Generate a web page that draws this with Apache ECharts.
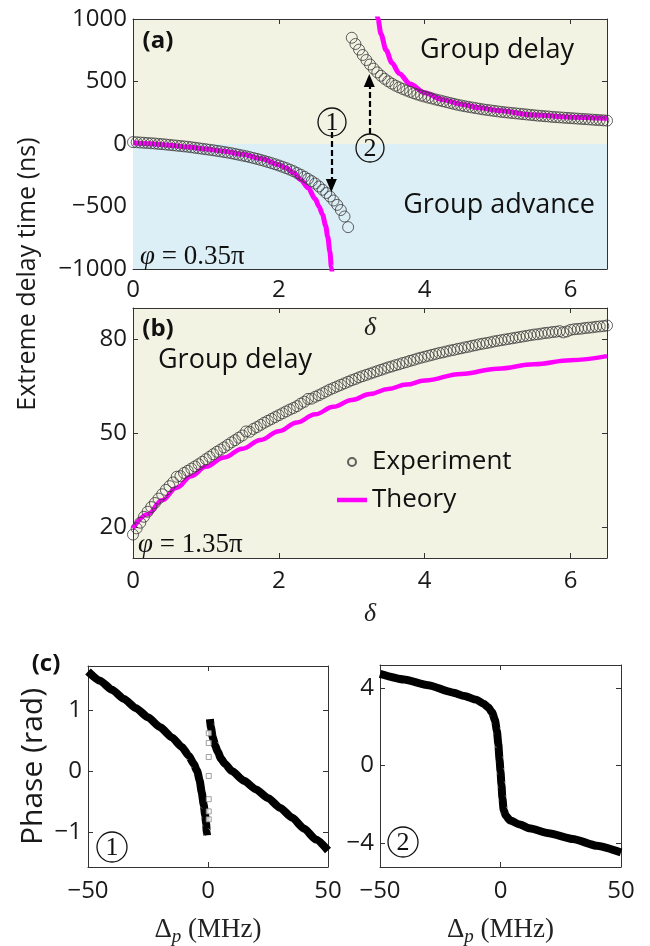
<!DOCTYPE html>
<html>
<head>
<meta charset="utf-8">
<script src="https://cdn.jsdelivr.net/npm/echarts@6/dist/echarts.min.js"></script>
<style>
html, body { margin: 0; padding: 0; background: #fff; }
#chart { width: 650px; height: 946px; }
</style>
</head>
<body>
<div id="chart"></div>
<script>
// delta grid shared by the experimental points of (a) and (b)
var deltaGrid = [
  0.00,0.05,0.10,0.15,0.20,0.25,0.30,0.35,0.40,0.45,0.50,0.55,0.60,0.65,0.70,0.75,0.80,0.85,0.90,0.95,
  1.00,1.05,1.10,1.15,1.20,1.25,1.30,1.35,1.40,1.45,1.50,1.55,1.60,1.65,1.70,1.75,1.80,1.85,1.90,1.95,
  2.00,2.05,2.10,2.15,2.20,2.25,2.30,2.35,2.40,2.45,2.50,2.55,2.60,2.65,2.70,2.75,2.80,2.85,2.90,2.95,
  3.00,3.05,3.10,3.15,3.20,3.25,3.30,3.35,3.40,3.45,3.50,3.55,3.60,3.65,3.70,3.75,3.80,3.85,3.90,3.95,
  4.00,4.05,4.10,4.15,4.20,4.25,4.30,4.35,4.40,4.45,4.50,4.55,4.60,4.65,4.70,4.75,4.80,4.85,4.90,4.95,
  5.00,5.05,5.10,5.15,5.20,5.25,5.30,5.35,5.40,5.45,5.50,5.55,5.60,5.65,5.70,5.75,5.80,5.85,5.90,5.95,
  6.00,6.05,6.10,6.15,6.20,6.25,6.30,6.35,6.40,6.45,6.50
];

// (a) experiment, delta 0 .. 2.95 (advance branch)
var aExpAdvance = [
  15,14,12,10,8,6,4,1,-1,-4,-7,-10,-13,-16,-19,-22,-26,-30,-34,-38,
  -42,-46,-50,-55,-59,-64,-69,-74,-80,-86,-92,-98,-105,-112,-119,-127,-135,-144,-153,-162,
  -172,-182,-193,-205,-217,-232,-246,-262,-279,-297,-316,-340,-366,-392,-420,-452,-487,-528,-580,-665
];
// (a) experiment, delta 3.00 .. 6.50 (delay branch)
var aExpDelay = [
  850,800,755,712,672,636,603,573,546,522,501,483,467,453,440,428,417,406,396,387,
  379,371,364,356,349,342,335,328,321,314,308,302,297,292,287,282,277,273,269,265,
  261,257,254,251,248,245,242,239,236,233,230,227,225,222,220,217,215,213,211,209,
  207,205,203,201,199,197,195,193,191,189,187
];
// (a) theory
var aTheoryAdvX = [0,0.25,0.5,0.75,1.0,1.25,1.5,1.75,2.0,2.1,2.2,2.3,2.4,2.5,2.55,2.6,2.64,2.67,2.7,2.72,2.74];
var aTheoryAdvY = [10,2,-10,-24,-40,-58,-82,-116,-165,-192,-230,-285,-350,-440,-500,-565,-650,-740,-860,-984,-1080];
var aTheoryDelX = [3.33,3.36,3.4,3.47,3.55,3.65,3.8,4.0,4.25,4.5,4.75,5.0,5.5,6.0,6.5];
var aTheoryDelY = [1080,1000,880,752,650,565,480,410,355,318,290,268,232,215,206];

// (b) experiment on deltaGrid
var bExp = [
  17.5,19.5,21.3,23.2,24.8,26.3,27.6,29.0,30.4,31.8,33.0,34.2,36.0,36.2,37.2,37.9,38.6,39.3,40.0,40.8,
  41.6,42.4,43.2,44.0,44.7,45.4,46.2,47.0,47.7,48.5,49.2,50.5,50.4,51.3,51.9,52.6,53.3,53.9,54.5,55.1,
  55.7,56.3,56.9,57.5,58.0,58.6,59.4,60.0,60.9,61.0,61.6,62.1,62.7,63.3,63.9,64.4,64.9,65.4,65.9,66.4,
  66.9,67.3,67.8,68.2,68.6,69.0,69.4,69.8,70.2,70.6,71.0,71.3,71.7,72.0,72.4,72.7,73.1,73.4,73.8,74.1,
  74.4,74.7,75.0,75.3,75.6,75.8,76.1,76.4,76.6,76.9,77.1,77.4,77.6,77.9,78.1,78.4,78.6,78.8,79.0,79.3,
  79.5,79.7,79.9,80.1,80.3,80.5,80.7,80.9,81.1,81.3,81.5,81.6,81.8,82.0,82.1,82.3,82.4,82.6,82.2,82.5,
  83.0,83.2,83.3,83.4,83.6,83.7,83.8,84.0,84.1,84.2,84.4
];
// (b) theory
var bTheoryX = [0,0.2,0.4,0.6,0.8,1.0,1.25,1.5,1.75,2.0,2.25,2.5,2.75,3.0,3.25,3.5,3.75,4.0,4.5,5.0,5.5,6.0,6.5];
var bTheoryY = [19.5,24,28.5,32.5,36.2,39.2,42.2,45,47.8,50.6,53.4,56,58.4,60.6,62.5,64.1,65.5,66.8,68.9,70.6,72,73.3,74.6];

// (c) phase, case 1
var c1LeftX = [-50,-45,-40,-35,-30,-25,-20,-15,-11,-8,-6,-4.5,-3.5,-2.6,-1.8,-1.2,-0.8,-0.5,-0.4];
var c1LeftY = [1.63,1.48,1.33,1.18,1.03,0.88,0.72,0.55,0.40,0.25,0.12,0.0,-0.15,-0.35,-0.55,-0.72,-0.85,-1.0,-1.05];
var c1RightX = [0.8,1.2,2,3,4,5.5,7,10,15,20,25,30,35,40,45,50];
var c1RightY = [0.85,0.72,0.55,0.42,0.32,0.2,0.12,0.0,-0.16,-0.3,-0.44,-0.6,-0.76,-0.94,-1.12,-1.3];
var c1GapX = [0.3,0.3,0.3,0.3,0.3,0.3,0.3];
var c1GapY = [0.62,0.46,0.23,-0.08,-0.46,-0.66,-0.79];

// (c) phase, case 2
var c2X = [-50,-40,-30,-20,-15,-10,-7,-5,-3.5,-2.3,-1.5,-0.9,-0.4,0,0.4,0.8,1.3,2.2,4,8,12,20,30,40,50];
var c2Y = [4.74,4.45,4.15,3.78,3.6,3.4,3.2,3.0,2.75,2.35,1.8,1.1,0.3,-0.3,-1.0,-1.7,-2.3,-2.6,-2.85,-3.05,-3.25,-3.5,-3.8,-4.15,-4.5];

function zip(xs, ys) {
  var out = [];
  for (var i = 0; i < ys.length; i++) out.push([xs[i], ys[i]]);
  return out;
}

var SANS = 'Open Sans';
var SERIF = 'Liberation Serif';
var beige = '#F3F3E3';
var blue = '#DDEFF6';
var magenta = '#FF00FF';
var ring = '#3a3a3a';
var minus = function (v) { return String(v).replace('-', '\u2212'); };

function axisBase(gridIndex, extra) {
  var o = {
    gridIndex: gridIndex,
    type: 'value',
    axisLine: { onZero: false, lineStyle: { color: '#333', width: 1 } },
    axisTick: { inside: true, length: 5, lineStyle: { color: '#333' } },
    axisLabel: { fontFamily: SANS, fontSize: 24, color: '#1a1a1a', formatter: minus },
    splitLine: { show: false }
  };
  for (var k in extra) {
    if (typeof extra[k] === 'object' && o[k] && !Array.isArray(extra[k])) {
      o[k] = Object.assign({}, o[k], extra[k]);
    } else {
      o[k] = extra[k];
    }
  }
  return o;
}

var deltaName = { fontFamily: SERIF, fontStyle: 'italic', fontSize: 26, color: '#222' };
var dpName = {
  fontFamily: SERIF, fontSize: 27, color: '#222',
  rich: {
    s: { fontFamily: SERIF, fontStyle: 'italic', fontSize: 19, padding: [14, 0, 0, 0] }
  }
};

var xAxes = [
  axisBase(0, { min: 0, max: 6.5, interval: 2, name: 'δ', nameLocation: 'middle', nameGap: 46, nameTextStyle: deltaName,
    axisLabel: { margin: 9, showMaxLabel: false } }),
  axisBase(0, { min: 0, max: 6.5, interval: 2, position: 'top', axisLabel: { show: false } }),
  axisBase(1, { min: 0, max: 6.5, interval: 2, name: 'δ', nameLocation: 'middle', nameGap: 43, nameTextStyle: deltaName,
    axisLabel: { margin: 11, showMaxLabel: false } }),
  axisBase(1, { min: 0, max: 6.5, interval: 2, position: 'top', axisLabel: { show: false } }),
  axisBase(2, { min: -50, max: 50, interval: 50, name: 'Δ{s|p} (MHz)', nameLocation: 'middle', nameGap: 46, nameTextStyle: dpName,
    axisLabel: { margin: 12 } }),
  axisBase(2, { min: -50, max: 50, interval: 50, position: 'top', axisLabel: { show: false } }),
  axisBase(3, { min: -50, max: 50, interval: 50, name: 'Δ{s|p} (MHz)', nameLocation: 'middle', nameGap: 46, nameTextStyle: dpName,
    axisLabel: { margin: 12 } }),
  axisBase(3, { min: -50, max: 50, interval: 50, position: 'top', axisLabel: { show: false } })
];

var bTicks = [20, 50, 80];
var c1Ticks = [-1, 0, 1];
var c2Ticks = [-4, 0, 4];

var yAxes = [
  axisBase(0, { min: -1000, max: 1000, interval: 500, axisLabel: { margin: 6 } }),
  axisBase(0, { min: -1000, max: 1000, interval: 500, position: 'right', axisLabel: { show: false } }),
  axisBase(1, { min: 10, max: 90, axisLabel: { margin: 6, customValues: bTicks }, axisTick: { customValues: bTicks } }),
  axisBase(1, { min: 10, max: 90, position: 'right', axisLabel: { show: false }, axisTick: { customValues: bTicks } }),
  axisBase(2, { min: -1.57, max: 1.72, name: 'Phase (rad)', nameLocation: 'middle', nameGap: 40,
    nameTextStyle: { fontFamily: SANS, fontSize: 30, color: '#1a1a1a' },
    axisLabel: { margin: 6, customValues: c1Ticks }, axisTick: { customValues: c1Ticks } }),
  axisBase(2, { min: -1.57, max: 1.72, position: 'right', axisLabel: { show: false }, axisTick: { customValues: c1Ticks } }),
  axisBase(3, { min: -5.25, max: 5.2, axisLabel: { margin: 6, customValues: c2Ticks }, axisTick: { customValues: c2Ticks } }),
  axisBase(3, { min: -5.25, max: 5.2, position: 'right', axisLabel: { show: false }, axisTick: { customValues: c2Ticks } })
];

function ringSeries(name, xi, data) {
  return {
    name: name, type: 'scatter', xAxisIndex: xi, yAxisIndex: xi, data: data, clip: false,
    symbol: 'circle', symbolSize: 11, z: 4, silent: true,
    itemStyle: { color: 'rgba(0,0,0,0)', borderColor: ring, borderWidth: 1 }
  };
}
function curve(name, xi, data, color, width, smooth) {
  return {
    name: name, type: 'line', xAxisIndex: xi, yAxisIndex: xi, data: data,
    symbol: 'none', showSymbol: false, silent: true, z: 3,
    smooth: smooth || false, smoothMonotone: 'x',
    lineStyle: { color: color, width: width }, itemStyle: { color: color }
  };
}

function textEl(x, y, txt, font, z) {
  return { type: 'text', x: x, y: y, z: z || 100,
    style: { text: txt, font: font, fill: '#111', textAlign: 'center', textVerticalAlign: 'middle', align: 'center', verticalAlign: 'middle' } };
}
function circled(cx, cy, digit, r) {
  return {
    type: 'group', z: 100,
    children: [
      { type: 'circle', z: 100, shape: { cx: cx, cy: cy, r: r }, style: { fill: 'none', stroke: '#111', lineWidth: 1.3 } },
      textEl(cx, cy + 1, digit, '26px "' + SERIF + '"', 101)
    ]
  };
}
var phiRich = { i: { fontFamily: SERIF, fontStyle: 'italic', fontSize: 27 }, n: { fontFamily: SERIF, fontSize: 27 } };

var option = {
  animation: false,
  backgroundColor: '#ffffff',
  grid: [
    { left: 133, top: 19, width: 474, height: 250, show: true, backgroundColor: beige, borderWidth: 0, outerBoundsMode: 'none' },
    { left: 133, top: 308, width: 474, height: 250, show: true, backgroundColor: beige, borderWidth: 0, outerBoundsMode: 'none' },
    { left: 88, top: 666, width: 240, height: 201, outerBoundsMode: 'none' },
    { left: 380, top: 665, width: 241, height: 202, outerBoundsMode: 'none' }
  ],
  xAxis: xAxes,
  yAxis: yAxes,
  legend: {
    left: 332, top: 444, orient: 'vertical', itemWidth: 30, itemHeight: 8, itemGap: 12,
    textStyle: { fontFamily: SANS, fontSize: 26, color: '#111' },
    data: [
      { name: 'Experiment' },
      { name: 'Theory', icon: 'path://M0,0H30V4.5H0Z' }
    ]
  },
  series: [
    {
      name: 'zones', type: 'line', xAxisIndex: 0, yAxisIndex: 0, data: [], z: 1, silent: true,
      markArea: { silent: true, itemStyle: { color: blue }, data: [[{ yAxis: -1000 }, { yAxis: 0 }]] },
      markLine: {
        silent: true, symbol: ['none', 'triangle'], symbolSize: [11, 13], label: { show: false },
        lineStyle: { color: '#000', width: 2.2, type: [6, 3] },
        data: [
          [{ coord: [2.72, 96] }, { coord: [2.72, -332] }],
          [{ coord: [3.24, 80] }, { coord: [3.24, 508] }]
        ]
      }
    },
    curve('a-theory-adv', 0, zip(aTheoryAdvX, aTheoryAdvY), magenta, 5, 0.3),
    curve('a-theory-delay', 0, zip(aTheoryDelX, aTheoryDelY), magenta, 5, 0.3),
    ringSeries('a-exp-adv', 0, zip(deltaGrid.slice(0, 60), aExpAdvance)),
    ringSeries('a-exp-delay', 0, zip(deltaGrid.slice(60), aExpDelay)),
    ringSeries('Experiment', 2, zip(deltaGrid, bExp)),
    curve('Theory', 2, zip(bTheoryX, bTheoryY), magenta, 4.5, 0.4),
    curve('c1-left', 4, zip(c1LeftX, c1LeftY), '#000', 8, 0.2),
    curve('c1-right', 4, zip(c1RightX, c1RightY), '#000', 8, 0.2),
    {
      name: 'c1-gap', type: 'scatter', xAxisIndex: 4, yAxisIndex: 4, data: zip(c1GapX, c1GapY), silent: true,
      symbol: 'rect', symbolSize: 5, z: 4, itemStyle: { color: '#fff', borderColor: '#888', borderWidth: 1 }
    },
    curve('c2', 6, zip(c2X, c2Y), '#000', 8, 0.2)
  ],
  graphic: [
    { type: 'text', x: 28, y: 274, rotation: Math.PI / 2, z: 100,
      style: { text: 'Extreme delay time (ns)', font: '25px "' + SANS + '"', fill: '#1a1a1a',
        textAlign: 'center', textVerticalAlign: 'middle', align: 'center', verticalAlign: 'middle' } },
    textEl(158, 41, '(a)', 'bold 24px "' + SANS + '"'),
    textEl(158, 329, '(b)', 'bold 24px "' + SANS + '"'),
    textEl(46, 664, '(c)', 'bold 24px "' + SANS + '"'),
    textEl(497, 50, 'Group delay', '27px "' + SANS + '"'),
    textEl(499, 205, 'Group advance', '27px "' + SANS + '"'),
    textEl(235, 360, 'Group delay', '27px "' + SANS + '"'),
    { type: 'text', x: 140, y: 257, z: 100,
      style: { text: '{i|φ}{n| = 0.35π}', rich: phiRich, fill: '#111',
        textAlign: 'left', textVerticalAlign: 'middle', align: 'left', verticalAlign: 'middle' } },
    { type: 'text', x: 138, y: 545, z: 100,
      style: { text: '{i|φ}{n| = 1.35π}', rich: phiRich, fill: '#111',
        textAlign: 'left', textVerticalAlign: 'middle', align: 'left', verticalAlign: 'middle' } },
    circled(332, 122, '1', 14),
    circled(370, 148, '2', 14),
    circled(112, 847, '1', 15),
    circled(403, 842, '2', 15)
  ]
};

var myChart = echarts.init(document.getElementById('chart'));
myChart.setOption(option);
</script>
</body>
</html>
